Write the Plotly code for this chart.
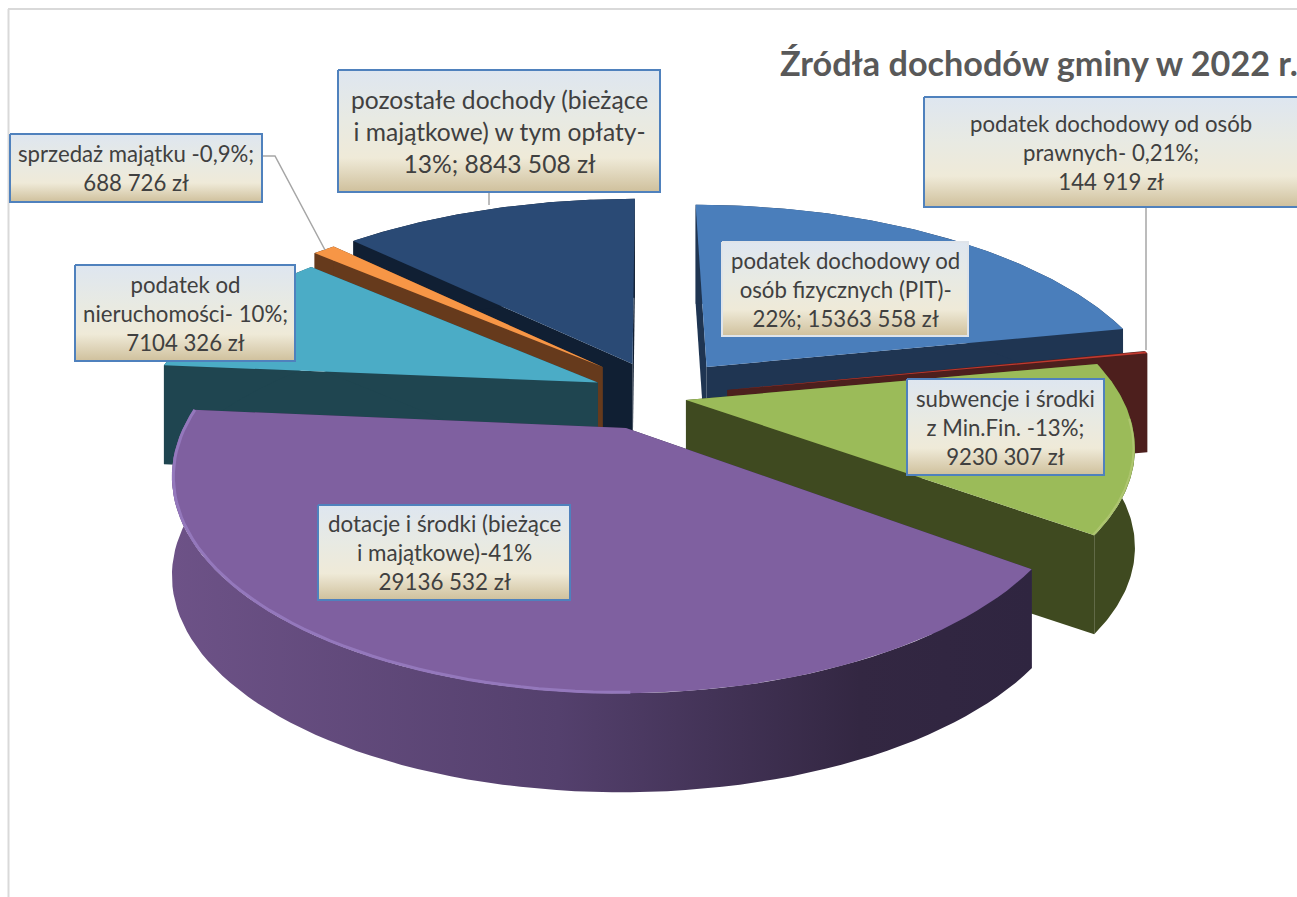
import numpy as np
import plotly.graph_objects as go

# ---- data ----
categories = ["PIT", "CIT", "subwencje", "dotacje", "nieruchomosci", "sprzedaz", "pozostale"]
values = [15363558, 144919, 9230307, 29136532, 7104326, 688726, 8843508]

label_texts = [
    "podatek dochodowy od<br>osób fizycznych (PIT)-<br>22%; 15363 558 zł",
    "podatek dochodowy od osób<br>prawnych- 0,21%;<br>144 919 zł",
    "subwencje i środki<br>z Min.Fin. -13%;<br>9230 307 zł",
    "dotacje i środki (bieżące<br>i majątkowe)-41%<br>29136 532 zł",
    "podatek od<br>nieruchomości- 10%;<br>7104 326 zł",
    "sprzedaż majątku -0,9%;<br>688 726 zł",
    "pozostałe dochody (bieżące<br>i majątkowe) w tym opłaty-<br>13%; 8843 508 zł",
]
title_text = "Źródła dochodów gminy w 2022 r."

# ---- styling ----
top_colors = ["#4a7ebb", "#c0392f", "#9bbb59", "#7f60a0", "#4bacc6", "#f79646", "#2a4a75"]
wall_colors = ["#1f3552", "#4d1f1d", "#3f4a20", "#33284a", "#1f4550", "#663a1c", "#101f33"]
draw_order = [6, 5, 4, 0, 1, 2, 3]
offsets = [(0.138, 0.09), (0.18, -0.024), (0.0886, -0.072), (-0.04, -0.20),
           (-0.104, 0.012), (-0.095, 0.089), (-0.028, 0.105)]
radii = [1.0, 0.98, 0.945, 0.93, 0.98, 1.0, 1.03]
rim_lights = {"dotacje": ("#9478bc", 178, 3), "subwencje": ("#aec56f", 95, 2)}

boxes = [(722, 968, 242, 336), (924, 1299, 97, 207), (907, 1104, 379, 475), (318, 570, 505, 600),
         (75, 295, 265, 361), (10, 262, 134, 202), (338, 660, 70, 192)]
box_border = ["#dfe4ea", "#4f81bd", "#4f81bd", "#4f81bd", "#4f81bd", "#4f81bd", "#4f81bd"]
font_sizes = [22.2, 22.2, 22.2, 22.4, 22.2, 22.2, 24.6]
box_scale = [[0, "#cfc09c"], [0.28, "#efead8"], [0.6, "#e8eae3"], [1, "#dee6f0"]]

CX, CY, A, B, H, P = 645, 385, 455, 205, 99, 0.22


def project(r, theta, off, z):
    X = r * np.sin(theta) + off[0]
    Y = r * np.cos(theta) + off[1]
    s = 1 / (1 + P * Y)
    return CX + A * X * s, CY - B * Y * s + H * z


fig = go.Figure()


def poly(xs, ys, color, name, gradient=None):
    kw = dict(fillgradient=gradient) if gradient else {}
    fig.add_trace(go.Scatter(x=list(xs), y=list(ys), mode="lines", fill="toself", fillcolor=color,
                             line=dict(width=0), hoverinfo="skip", name=name, showlegend=False, **kw))


fracs = np.array(values) / sum(values)
edges = np.concatenate([[0], np.cumsum(fracs)]) * 2 * np.pi

for i in draw_order:
    t0, t1 = edges[i], edges[i + 1]
    off = offsets[i]
    r = radii[i]
    arc = np.linspace(t0, t1, 80)
    ax, ay = project(r, arc, off, 0)
    bx, by = project(r, arc, off, 1)
    cx0, cy0 = project(0, 0.0, off, 0)
    cx1, cy1 = project(0, 0.0, off, 1)
    for t in (t0, t1):
        ex0, ey0 = project(r, t, off, 0)
        ex1, ey1 = project(r, t, off, 1)
        poly([cx0, ex0, ex1, cx1, cx0], [cy0, ey0, ey1, cy1, cy0], wall_colors[i], categories[i] + " wall")
    grad = None
    if categories[i] == "dotacje":
        grad = dict(type="horizontal", colorscale=[[0, "#6d5287"], [0.45, "#54406d"], [0.8, "#332742"], [1, "#2f2540"]])
    poly(np.r_[ax, bx[::-1]], np.r_[ay, by[::-1]], wall_colors[i], categories[i] + " rim wall", grad)
    poly(np.r_[cx0, ax, cx0], np.r_[cy0, ay, cy0], top_colors[i], categories[i] + " top")
    if categories[i] in rim_lights:
        color, start, width = rim_lights[categories[i]]
        hl = arc[arc > np.radians(start)]
        hx, hy = project(r * 0.997, hl, off, 0)
        fig.add_trace(go.Scatter(x=hx, y=hy, mode="lines", line=dict(color=color, width=width),
                                 hoverinfo="skip", showlegend=False, name="rim light"))

# leader lines
for lx, ly in [([262, 275, 325], [156, 156, 250]), ([489, 489], [192, 205]), ([1146, 1146], [207, 350])]:
    fig.add_trace(go.Scatter(x=lx, y=ly, mode="lines", line=dict(color="#a6a6a6", width=1.5),
                             hoverinfo="skip", showlegend=False))

# label boxes
for i, (x0, x1, y0, y1) in enumerate(boxes):
    fig.add_trace(go.Scatter(x=[x0, x1, x1, x0, x0], y=[y0, y0, y1, y1, y0], mode="lines", fill="toself",
                             fillgradient=dict(type="vertical", colorscale=box_scale),
                             line=dict(color=box_border[i], width=2), hoverinfo="skip", showlegend=False))
    fig.add_annotation(x=(x0 + min(x1, 1297)) / 2, y=(y0 + y1) / 2, text=label_texts[i], showarrow=False,
                       font=dict(family="Lato", size=font_sizes[i], color="#404040"), align="center")

fig.add_annotation(x=1297, y=62, xshift=3, text="<b>" + title_text + "</b>", showarrow=False, xanchor="right",
                   font=dict(family="Lato", size=34.2, color="#595959"))

fig.update_layout(
    width=1297, height=897, margin=dict(l=0, r=0, t=0, b=0), paper_bgcolor="white", plot_bgcolor="white",
    showlegend=False,
    xaxis=dict(range=[0, 1297], visible=False, fixedrange=True),
    yaxis=dict(range=[897, 0], visible=False, fixedrange=True),
    shapes=[
        dict(type="line", xref="paper", yref="paper", x0=8.5 / 1297, x1=8.5 / 1297, y0=0, y1=1 - 9 / 897,
             line=dict(color="#d9d9d9", width=2), layer="below"),
        dict(type="line", xref="paper", yref="paper", x0=8 / 1297, x1=1, y0=1 - 9 / 897, y1=1 - 9 / 897,
             line=dict(color="#d9d9d9", width=2), layer="below"),
    ],
)
fig.write_html("out.html", config=dict(displayModeBar=False), post_script="document.body.style.margin='0';document.body.style.overflow='hidden';")
